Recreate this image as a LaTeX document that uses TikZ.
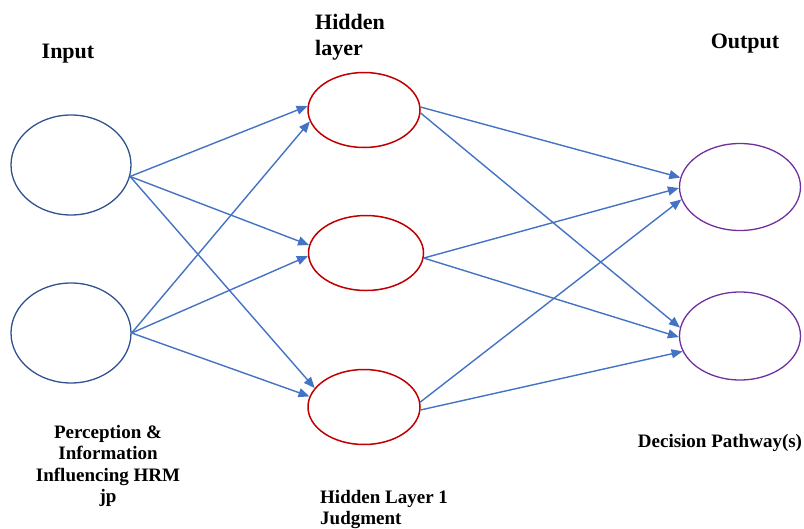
\documentclass[tikz,border=0pt]{standalone}
\usepackage{fontspec}
\setmainfont{Liberation Serif}
\usepackage{tikz}
\usetikzlibrary{%
        arrows.meta,
        shapes.geometric,
    }
\definecolor{inblue}{HTML}{2F528F}
\definecolor{hidred}{HTML}{C00000}
\definecolor{outpurple}{HTML}{7030A0}
\definecolor{linkblue}{HTML}{4472C4}
\tikzset{%
    inneuron/.style={%
        ellipse,
        draw=inblue,
        line width=1.3pt,
        minimum width=120pt,
        minimum height=100pt,
    },
    hidneuron/.style={%
        ellipse,
        draw=hidred,
        line width=1.5pt,
        minimum width=112pt,
        minimum height=75pt,
    },
    outneuron/.style={%
        ellipse,
        draw=outpurple,
        line width=1.3pt,
        minimum width=121pt,
        minimum height=87pt,
    },
    link/.style={%
        -{Triangle[length=11pt, width=9pt]},
        line width=1.4pt,
        draw=linkblue,
    },
    head/.style={font=\fontsize{22}{26}\selectfont\bfseries, inner sep=0},
    caption/.style={font=\fontsize{19}{21.5}\selectfont\bfseries, inner sep=0},
}
\begin{document}
\begin{tikzpicture}[x=1pt, y=-1pt]

    \useasboundingbox (0, 0) rectangle (804, 528);

    %%%%%%%%%%%
    % Neurons %
    %%%%%%%%%%%
    \node[inneuron] (in-1) at (71, 165) {};
    \node[inneuron] (in-2) at (71, 333) {};

    \node[hidneuron] (hid-1) at (364, 110) {};
    \node[hidneuron, minimum width=115pt] (hid-2) at (366, 253) {};
    \node[hidneuron] (hid-3) at (364, 407) {};

    \node[outneuron] (out-1) at (740, 187) {};
    \node[outneuron, minimum height=88pt] (out-2) at (740, 336) {};

    %%%%%%%%%%
    % Labels %
    %%%%%%%%%%
    \node[head, anchor=base] (lbl-input) at (68, 58) {Input};
    \node[head, anchor=base west] (lbl-hidden) at (315, 29) {%
        \begin{tabular}[t]{@{}l@{}}
            Hidden\\
            layer
        \end{tabular}
    };
    \node[head, anchor=base] (lbl-output) at (745, 48) {Output};

    \node[caption, anchor=base] (lbl-perception) at (108, 438) {%
        \begin{tabular}[t]{@{}c@{}}
            Perception \&\\
            Information\\
            Influencing HRM\\
            jp
        \end{tabular}
    };
    \node[caption, anchor=base west] (lbl-judgment) at (320, 503) {%
        \begin{tabular}[t]{@{}l@{}}
            Hidden Layer 1\\
            Judgment
        \end{tabular}
    };
    \node[caption, anchor=base] (lbl-decision) at (720, 447)
        {Decision Pathway(s)};

    %%%%%%%%%%
    % Arrows %
    %%%%%%%%%%
    % Input -> hidden
    \foreach \src/\dst in {%
        in-1.-11/hid-1.176, in-1.-11/hid-2.172, in-1.-11/hid-3.159,
        in-2.east/hid-1.192, in-2.east/hid-2.183, in-2.east/hid-3.169%
    }{%
        \draw[link] (\src) -- (\dst);
    };

    % Hidden -> output
    \foreach \src/\dst in {%
        hid-1.3/out-1.171, hid-1.-3/out-2.172,
        hid-2.-5/out-1.181, hid-2.-5/out-2.181,
        hid-3.5/out-1.192, hid-3.-3/out-2.195%
    }{%
        \draw[link] (\src) -- (\dst);
    };

\end{tikzpicture}
\end{document}
